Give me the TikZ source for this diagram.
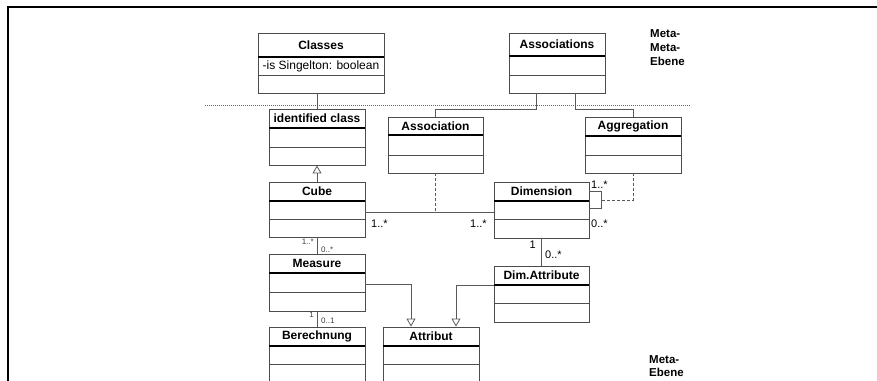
\documentclass[tikz,border=0pt]{standalone}
\usepackage{fontspec}
\setmainfont{Liberation Sans}
\usetikzlibrary{arrows.meta,fit,calc}
\newcommand\umlcls[8]{%
  \node[boxline, fit={(#2,#3)(#4,#5)}, inner sep=0pt] (#1) {};
  \draw[boxline] (#2,#7) -- (#4,#7);
  \draw[titlesep] (#2,#6) -- (#4,#6);
  \node[ttl] (#1-t) at ({(#2+#4)/2},{(#3+#6)/2}) {#8};
}
\begin{document}
\begin{tikzpicture}[x=1pt,y=-1pt,
  boxline/.style={draw=black!70, line width=0.9pt},
  titlesep/.style={draw=black, line width=1.2pt},
  ttl/.style={font=\fontsize{12}{12}\selectfont\bfseries, inner sep=0pt},
  attr/.style={font=\fontsize{12}{12}\selectfont, inner sep=0pt},
  mult/.style={font=\fontsize{11}{11}\selectfont, inner sep=0pt},
  smult/.style={font=\fontsize{8}{8}\selectfont, inner sep=0pt, text=black!75},
  conn/.style={draw=black!65, line width=0.8pt},
  dconn/.style={conn, dash pattern=on 3pt off 2pt},
  inh/.style={conn, -{Triangle[open,length=8pt,width=9pt]}},
  meta/.style={font=\fontsize{11.5}{14}\selectfont\bfseries, align=left, inner sep=0pt, anchor=north west},
]
\clip (0,0) rectangle (877,380);
\fill[white] (0,0) rectangle (877,380);
% frame
\draw[line width=2pt] (8,381) -- (8,7) -- (878,7);
% level separator
\draw[black!60, line width=0.8pt, dash pattern=on 1pt off 1pt] (205,105) -- (690,105);

% classes
\umlcls{cls}{258}{33}{384}{93}{57}{75}{Classes}
\node[attr] (cls-a) at (321,66) {-is Singelton: boolean};
\umlcls{asc}{509}{33}{605}{93}{56}{75}{Associations}
\umlcls{idc}{269}{109}{365}{165}{128}{147}{identified class}
\umlcls{cube}{269}{182}{365}{237}{201}{219}{Cube}
\umlcls{assoc}{388}{117}{483}{173}{135}{155}{Association}
\umlcls{aggr}{585}{117}{681}{173}{136}{155}{Aggregation}
\umlcls{dim}{494}{182}{589}{238}{201}{219}{Dimension}
\umlcls{meas}{269}{254}{365}{311}{273}{292}{Measure}
\umlcls{ber}{269}{327}{365}{400}{346}{364}{Berechnung}
\umlcls{attr}{383}{327}{479}{400}{346}{364}{Attribut}
\umlcls{dima}{494}{266}{589}{322}{285}{303}{Dim.Attribute}

% meta-meta connectors
\draw[conn] (cls.south -| idc.north) -- (idc.north);
\draw[conn] ([xshift=-21pt]asc.south) -- ++(0,16) -| (assoc.north);
\draw[conn] ([xshift=18pt]asc.south) -- ++(0,16) -| (aggr.north);

% generalisation Cube -> identified class
\draw[inh] (cube.north) -- (idc.south);

% association Cube -- Dimension
\coordinate (cdL) at (cube.east |- 0,212);
\coordinate (cdR) at (dim.west |- 0,212);
\draw[conn] (cdL) -- (cdR);
\draw[dconn] (assoc.south) -- (assoc.south |- cdL);
\node[mult, anchor=west] (m1) at (371,224) {1..*};
\node[mult, anchor=west] (m2) at (470,224) {1..*};

% Dimension self aggregation
\coordinate (loopA) at ([yshift=-10pt]dim.north east);
\coordinate (loopR) at (601,200);
\draw[conn] (loopA) -- ++(12,0) -- ++(0,17) -- ++(-12,0);
\draw[dconn] (aggr.south) |- (loopR);
\node[mult, anchor=west] (m3) at (591,185) {1..*};
\node[mult, anchor=west] (m4) at (591,224) {0..*};

% Cube -- Measure
\draw[conn] (cube.south) -- (meas.north);
\node[smult, anchor=east] (m5) at (314,242) {1..*};
\node[smult, anchor=west] (m6) at (321,250) {0..*};

% Measure -- Berechnung
\draw[conn] (meas.south) -- (ber.north);
\node[smult, anchor=east] (m7) at (314,315) {1};
\node[smult, anchor=west] (m8) at (321,321) {0..1};

% Dimension -- Dim.Attribute
\draw[conn] (dim.south) -- (dima.north);
\node[mult, anchor=east] (m9) at (536,245) {1};
\node[mult, anchor=west] (m10) at (545,255) {0..*};

% generalisations to Attribut
\draw[inh] (meas.east |- 0,284) -| ([xshift=-20pt]attr.north);
\draw[inh] (dima.west |- 0,285) -| ([xshift=25pt]attr.north);

% level labels
\node[meta] (lvl1) at (650,29) {Meta-\\Meta-\\Ebene};
\node[meta, font=\fontsize{11.5}{13}\selectfont\bfseries] (lvl2) at (649,355) {Meta-\\Ebene};
\end{tikzpicture}
\end{document}
